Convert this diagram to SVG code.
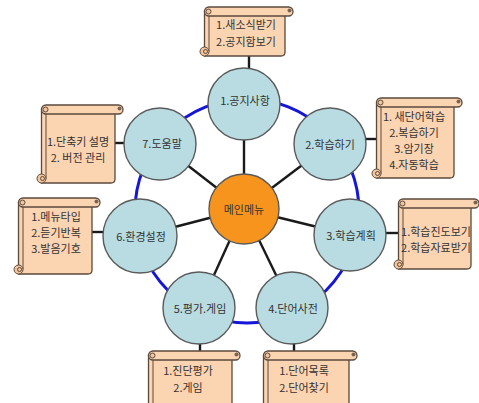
<svg xmlns="http://www.w3.org/2000/svg" width="479" height="403" viewBox="0 0 479 403">
<defs>
<style>
.ring{fill:none;stroke:#1616d8;stroke-width:3}
.sp{stroke:#1a1a1a;stroke-width:2.4}
.nd{fill:#b8dce2;stroke:#5a5a5a;stroke-width:1.4}
.ctr{fill:#f7941d;stroke:#5a5a5a;stroke-width:1.4}
.sc{fill:#fbd4b2;stroke:#5b4a3c;stroke-width:1.3}
.ln{fill:none;stroke:#5b4a3c;stroke-width:1}
.cu{fill:#f3c49c;stroke:#5b4a3c;stroke-width:1}
.dot{fill:#7a6453}
text{font-family:"Noto Sans CJK KR","Noto Sans",sans-serif;font-size:11px;fill:#333;text-anchor:middle}
</style>
<clipPath id="c3"><rect x="399" y="200" width="72" height="70"/></clipPath>
</defs>
<rect width="479" height="403" fill="#fff"/>
<g id="connectors">
<circle class="ring" cx="247" cy="211" r="112"/>
<line class="sp" x1="244" y1="209" x2="244" y2="104"/>
<line class="sp" x1="244" y1="209" x2="330" y2="144"/>
<line class="sp" x1="244" y1="209" x2="350" y2="235"/>
<line class="sp" x1="244" y1="209" x2="292" y2="308"/>
<line class="sp" x1="244" y1="209" x2="199" y2="308"/>
<line class="sp" x1="244" y1="209" x2="140" y2="236"/>
<line class="sp" x1="244" y1="209" x2="160" y2="144"/>
<line class="sp" x1="249" y1="54" x2="249" y2="70"/>
<line class="sp" x1="360" y1="139" x2="376" y2="139"/>
<line class="sp" x1="384" y1="233" x2="400" y2="233"/>
<line class="sp" x1="113" y1="143" x2="126" y2="143"/>
<line class="sp" x1="90" y1="232" x2="105" y2="232"/>
<line class="sp" x1="200" y1="342" x2="200" y2="353"/>
<line class="sp" x1="294" y1="342" x2="294" y2="353"/>
</g>
<g id="n1"><circle class="nd" cx="244" cy="104" r="36"/><text x="245" y="105">1.공지사항</text></g>
<g id="n2"><circle class="nd" cx="330" cy="144" r="36"/><text x="330" y="149">2.학습하기</text></g>
<g id="n3"><circle class="nd" cx="350" cy="235" r="36"/><text x="351" y="240">3.학습계획</text></g>
<g id="n4"><circle class="nd" cx="292" cy="308" r="36"/><text x="293" y="313">4.단어사전</text></g>
<g id="n5"><circle class="nd" cx="199" cy="308" r="36"/><text x="200" y="313">5.평가.게임</text></g>
<g id="n6"><circle class="nd" cx="140" cy="236" r="37"/><text x="141" y="241">6.환경설정</text></g>
<g id="n7"><circle class="nd" cx="160" cy="144" r="36"/><text x="162" y="148">7.도움말</text></g>
<g id="center"><circle class="ctr" cx="244" cy="209" r="35"/><text x="244" y="214">메인메뉴</text></g>

<g id="s1">
<path class="sc" d="M204.5,11.5 H285 V52 Q285,56 281,56 H204.5 Z"/>
<path class="ln" d="M209,16 V51.5"/>
<circle class="cu" cx="204.5" cy="51.5" r="4.5"/><circle class="ln" cx="205.5" cy="51.5" r="2"/>
<rect class="sc" x="204.5" y="7" width="88.5" height="9" rx="4.5"/>
<circle class="cu" cx="208.5" cy="11.5" r="2.5"/><circle class="dot" cx="289.5" cy="10.5" r="2"/>
<text x="246" y="29">1.새소식받기</text><text x="246" y="46">2.공지함보기</text>
</g>
<g id="s2">
<path class="sc" d="M376.5,102.5 H454 V174 Q454,178 450,178 H376.5 Z"/>
<path class="ln" d="M381,107 V173.5"/>
<circle class="cu" cx="376.5" cy="173.5" r="4.5"/><circle class="ln" cx="377.5" cy="173.5" r="2"/>
<rect class="sc" x="376.5" y="98" width="85.5" height="9" rx="4.5"/>
<circle class="cu" cx="380.5" cy="102.5" r="2.5"/><circle class="dot" cx="458.5" cy="101.5" r="2"/>
<text x="414" y="121">1. 새단어학습</text><text x="414" y="137">2.복습하기</text><text x="414" y="153">3.암기장</text><text x="414" y="169">4.자동학습</text>
</g>
<g id="s3">
<path class="sc" d="M398.5,203.5 H471 V265 Q471,269 467,269 H398.5 Z"/>
<path class="ln" d="M403,208 V264.5"/>
<circle class="cu" cx="398.5" cy="264.5" r="4.5"/><circle class="ln" cx="399.5" cy="264.5" r="2"/>
<rect class="sc" x="398.5" y="199" width="80.5" height="9" rx="4.5"/>
<circle class="cu" cx="402.5" cy="203.5" r="2.5"/><circle class="dot" cx="475.5" cy="202.5" r="2"/>
<g clip-path="url(#c3)"><text x="436" y="236">1.학습진도보기</text><text x="436" y="252">2.학습자료받기</text></g>
</g>
<g id="s7">
<path class="sc" d="M41.5,109.5 H115 V179 Q115,183 111,183 H41.5 Z"/>
<path class="ln" d="M46,114 V178.5"/>
<circle class="cu" cx="41.5" cy="178.5" r="4.5"/><circle class="ln" cx="42.5" cy="178.5" r="2"/>
<rect class="sc" x="41.5" y="105" width="81.5" height="9" rx="4.5"/>
<circle class="cu" cx="45.5" cy="109.5" r="2.5"/><circle class="dot" cx="119.5" cy="108.5" r="2"/>
<text x="78" y="146">1.단축키 설명</text><text x="78" y="162">2. 버전 관리</text>
</g>
<g id="s6">
<path class="sc" d="M18.5,202.5 H92 V270 Q92,274 88,274 H18.5 Z"/>
<path class="ln" d="M23,207 V269.5"/>
<circle class="cu" cx="18.5" cy="269.5" r="4.5"/><circle class="ln" cx="19.5" cy="269.5" r="2"/>
<rect class="sc" x="18.5" y="198" width="81.5" height="9" rx="4.5"/>
<circle class="cu" cx="22.5" cy="202.5" r="2.5"/><circle class="dot" cx="96.5" cy="201.5" r="2"/>
<text x="56" y="221">1.메뉴타입</text><text x="56" y="237">2.듣기반복</text><text x="56" y="253">3.발음기호</text>
</g>
<g id="s5">
<path class="sc" d="M148.5,355.5 H232 V421 H148.5 Z"/>
<path class="ln" d="M153,360 V420"/>
<rect class="sc" x="148.5" y="351" width="91.5" height="9" rx="4.5"/>
<circle class="cu" cx="152.5" cy="355.5" r="2.5"/><circle class="dot" cx="236.5" cy="354.5" r="2"/>
<text x="188" y="375">1.진단평가</text><text x="188" y="392">2.게임</text>
</g>
<g id="s4">
<path class="sc" d="M263.5,355.5 H349 V421 H263.5 Z"/>
<path class="ln" d="M268,360 V420"/>
<rect class="sc" x="263.5" y="351" width="93.5" height="9" rx="4.5"/>
<circle class="cu" cx="267.5" cy="355.5" r="2.5"/><circle class="dot" cx="353.5" cy="354.5" r="2"/>
<text x="304" y="375">1.단어목록</text><text x="304" y="392">2.단어찾기</text>
</g>
</svg>
